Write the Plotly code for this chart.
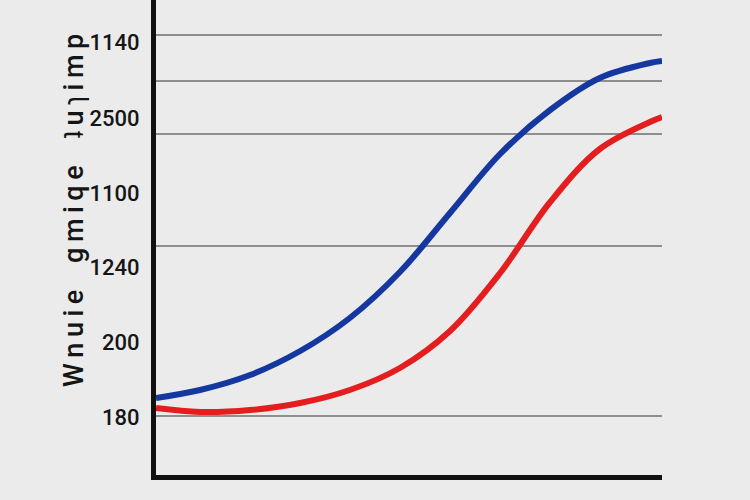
import plotly.graph_objects as go

# Data
x_vals = [0, 8.7, 18.6, 28.5, 38.3, 48.2, 58.1, 68.0, 77.9, 87.7, 97.6, 100]
blue_y = [77, 85, 100, 124, 157, 203, 262, 321, 365, 397, 412, 414]
red_y = [67, 63, 65, 72, 85, 107, 144, 202, 273, 326, 353, 358]

ytick_vals = [433, 357, 282, 208, 133, 58]
ytick_text = ["1140", "2500", "1100", "1240", "200", "180"]
grid_vals = [440, 394, 341, 229, 59]

title_words = ["Wnuie", "gmiqe", "ʇuɿimp"]
y_title = "\u00a0\u00a0\u00a0\u00a0".join("\u2009".join(w) for w in title_words)

BG = "#ebebeb"

fig = go.Figure()
fig.add_trace(go.Scatter(x=x_vals, y=blue_y, mode="lines",
                         line=dict(color="#1538a0", width=6, shape="spline", smoothing=1.0),
                         showlegend=False, hoverinfo="skip"))
fig.add_trace(go.Scatter(x=x_vals, y=red_y, mode="lines",
                         line=dict(color="#e41e1e", width=6, shape="spline", smoothing=1.0),
                         showlegend=False, hoverinfo="skip"))

fig.update_layout(
    width=750, height=500,
    margin=dict(l=156, r=88, t=0, b=25),
    paper_bgcolor=BG, plot_bgcolor=BG,
    font=dict(family="Roboto, Liberation Sans, Arial, sans-serif", color="#151515"),
    xaxis=dict(range=[0, 100], showgrid=False, zeroline=False,
               showline=True, linecolor="#111111", linewidth=5,
               showticklabels=False, ticks=""),
    yaxis=dict(range=[0, 475], showgrid=False, zeroline=False,
               showline=True, linecolor="#111111", linewidth=5,
               tickmode="array", tickvals=ytick_vals, ticktext=ytick_text,
               ticks="", ticklabelstandoff=7,
               tickfont=dict(size=22, color="#151515", weight=500),
               minor=dict(tickmode="array", tickvals=grid_vals, showgrid=True,
                          gridcolor="#8e8e8e", gridwidth=1.5, ticks="")),
    annotations=[dict(text=y_title, xref="paper", yref="paper",
                      x=-0.162, y=0.556, xanchor="center", yanchor="middle",
                      textangle=-90, showarrow=False,
                      font=dict(size=27, color="#151515", weight=500))],
)

fig.write_html("out.html", config={"displayModeBar": False},
               post_script="document.body.style.margin='0';")
